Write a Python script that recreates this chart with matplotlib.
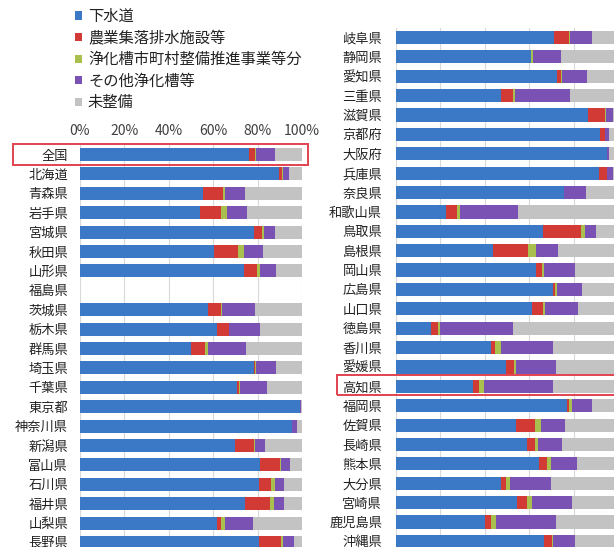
import matplotlib
matplotlib.use("Agg")
import matplotlib.pyplot as plt
from matplotlib.patches import Rectangle, Patch
import numpy as np

plt.rcParams['font.family'] = ['Noto Sans CJK JP', 'DejaVu Sans']

series_names = ['下水道', '農業集落排水施設等', '浄化槽市町村整備推進事業等分', 'その他浄化槽等', '未整備']
colors = ['#3b78c6', '#d23a36', '#a9c04e', '#7a52b4', '#c3c3c3']

left_regions = ['全国', '北海道', '青森県', '岩手県', '宮城県', '秋田県', '山形県', '福島県',
                '茨城県', '栃木県', '群馬県', '埼玉県', '千葉県', '東京都', '神奈川県', '新潟県',
                '富山県', '石川県', '福井県', '山梨県', '長野県']
left_sewer = [76.0, 89.5, 55.3, 54.0, 78.3, 60.3, 73.8, 0.0, 57.7, 61.8, 50.1, 78.3, 70.8,
              99.3, 95.5, 70.0, 81.3, 80.5, 74.2, 61.8, 80.8]
left_rural = [2.8, 1.6, 9.0, 9.3, 3.7, 10.9, 6.0, 0.0, 6.0, 5.2, 6.4, 0.7, 1.0,
              0.0, 0.0, 8.3, 9.0, 5.7, 11.6, 1.9, 9.9]
left_muni = [0.4, 0.4, 1.2, 3.0, 0.8, 2.6, 1.5, 0.0, 0.3, 0.3, 1.2, 0.3, 0.3,
             0.0, 0.1, 0.7, 0.4, 1.5, 1.5, 1.8, 0.6]
left_other = [8.8, 2.5, 8.6, 9.0, 5.2, 8.7, 7.0, 0.0, 14.7, 14.0, 17.1, 9.2, 12.2,
              0.4, 2.1, 4.5, 3.8, 4.1, 4.5, 12.3, 5.0]

right_regions = ['岐阜県', '静岡県', '愛知県', '三重県', '滋賀県', '京都府', '大阪府', '兵庫県',
                 '奈良県', '和歌山県', '鳥取県', '島根県', '岡山県', '広島県', '山口県', '徳島県',
                 '香川県', '愛媛県', '高知県', '福岡県', '佐賀県', '長崎県', '熊本県', '大分県',
                 '宮崎県', '鹿児島県', '沖縄県']
right_sewer = [71.1, 60.6, 72.6, 47.5, 86.6, 91.9, 95.2, 91.4, 75.6, 22.3, 66.3, 43.6, 62.9,
               70.7, 61.4, 15.9, 43.0, 49.6, 34.7, 77.1, 54.1, 59.1, 64.4, 47.1, 54.6, 40.3, 66.6]
right_rural = [6.8, 0.4, 1.5, 5.3, 7.4, 2.1, 0.0, 3.5, 0.0, 5.2, 17.2, 15.9, 2.7,
               0.7, 4.9, 2.9, 1.8, 3.5, 2.9, 1.0, 8.5, 3.5, 3.4, 2.5, 4.5, 2.3, 3.8]
right_muni = [0.3, 0.5, 0.8, 1.0, 0.4, 0.0, 0.0, 0.3, 0.0, 1.5, 1.5, 3.7, 1.0,
              1.2, 0.8, 1.2, 2.3, 1.0, 2.2, 1.3, 2.5, 1.5, 1.8, 1.7, 2.3, 2.5, 0.4]
right_other = [9.9, 12.6, 11.0, 24.8, 3.5, 1.9, 0.8, 2.5, 10.1, 26.0, 5.2, 9.9, 14.0,
               11.0, 15.0, 32.8, 23.7, 17.8, 30.9, 9.0, 11.0, 10.8, 11.8, 18.6, 18.0, 27.1, 9.8]

W, H = 614, 547
fig = plt.figure(figsize=(W / 100, H / 100), dpi=100)


def axes_from_pixels(x0, x1, y_top, y_bot):
    return fig.add_axes([x0 / W, 1 - y_bot / H, (x1 - x0) / W, (y_bot - y_top) / H])


def draw_panel(ax, regions, sewer, rural, muni, other, label_pad):
    n = len(regions)
    y = np.arange(n)
    parts = [np.array(sewer), np.array(rural), np.array(muni), np.array(other)]
    total = sum(parts)
    rest = np.where(total > 0, 100 - total, 0)
    parts.append(rest)
    left = np.zeros(n)
    for vals, c in zip(parts, colors):
        ax.barh(y, vals, left=left, height=0.68, color=c, edgecolor='none', zorder=3)
        left = left + vals
    ax.set_xlim(0, 100)
    ax.set_ylim(n - 0.5, -0.5)
    ax.set_xticks([0, 20, 40, 60, 80, 100])
    ax.xaxis.grid(True, color='#d9d9d9', linewidth=0.8, zorder=0)
    ax.set_axisbelow(True)
    ax.set_yticks(y)
    ax.set_yticklabels(regions, fontsize=9.5, color='#222222')
    ax.tick_params(axis='y', length=0, pad=label_pad)
    for s in ax.spines.values():
        s.set_visible(False)


ax_l = axes_from_pixels(80, 302, 144.8, 552.2)
draw_panel(ax_l, left_regions, left_sewer, left_rural, left_muni, left_other, 8.5)
ax_l.xaxis.tick_top()
ax_l.set_xticklabels([f'{v}%' for v in range(0, 101, 20)], fontsize=10, color='#404040')
ax_l.tick_params(axis='x', length=0, pad=5)

ax_r = axes_from_pixels(396, 618, 27.8, 551.1)
draw_panel(ax_r, right_regions, right_sewer, right_rural, right_muni, right_other, 10)
ax_r.tick_params(axis='x', length=0, labeltop=False, labelbottom=False)

# highlight boxes around the national total and 高知県
box_color = '#e2434f'
for (x0, y0, x1, y1) in [(13, 144, 308, 165), (337, 375, 640, 395)]:
    fig.patches.append(Rectangle((x0 / W, 1 - y1 / H), (x1 - x0) / W, (y1 - y0) / H,
                                 transform=fig.transFigure, fill=False,
                                 edgecolor=box_color, linewidth=1.4, zorder=10))

handles = [Patch(facecolor=c, edgecolor='none') for c in colors]
fig.legend(handles, series_names, loc='upper left', bbox_to_anchor=(75 / W, 1 - 8 / H),
           frameon=False, fontsize=11, handlelength=0.45, handleheight=0.45,
           handletextpad=0.4, labelspacing=0.3, borderaxespad=0, borderpad=0,
           labelcolor='#222222')

fig.savefig('out.png', dpi=100)
